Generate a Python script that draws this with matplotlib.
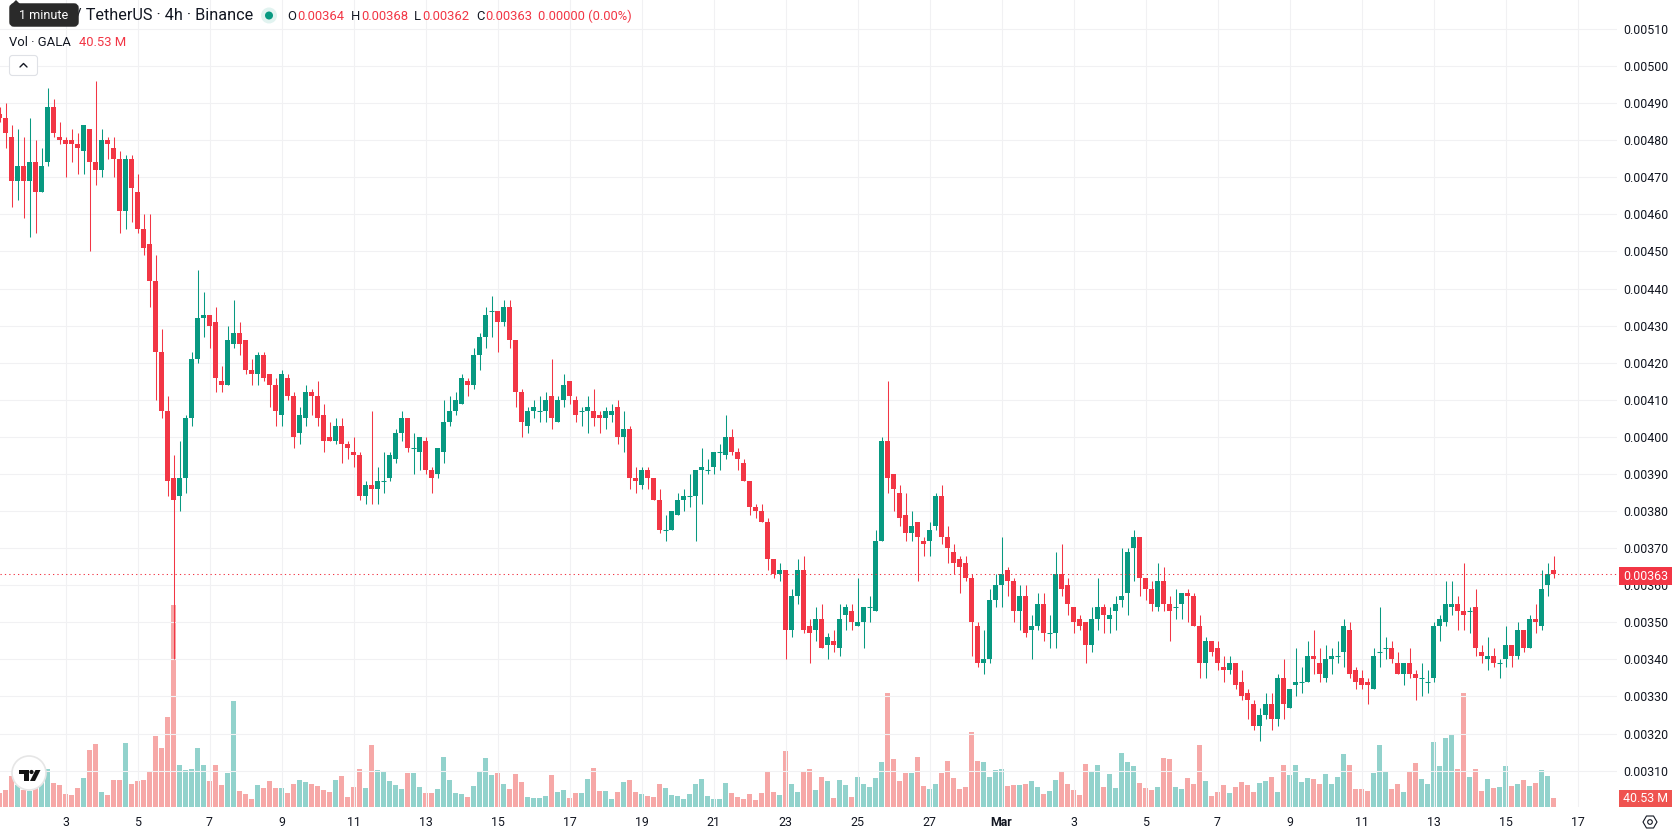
import matplotlib
matplotlib.use('Agg')
import matplotlib.pyplot as plt
import numpy as np
from matplotlib.patches import FancyBboxPatch, Circle, Polygon, Rectangle

plt.rcParams['font.family'] = ['Roboto', 'DejaVu Sans']

W, H = 1678, 835
GREEN = '#089981'
RED = '#F23645'
TEXT = '#131722'
GRID = '#f1f1f3'

# GALA/USDT 4h candles, prices in units of 0.00001, volume in millions
first_candle = -11  # candle number relative to the 00:00 candle of the 3rd
opens = [487,486,481,469,473,469,474,466,474,489,
         481,480,480,479,477,483,474,472,480,478,
         475,461,475,466,456,452,442,423,407,389,
         384,389,405,421,432,433,431,415,414,425,
         428,426,418,417,422,417,414,406,416,411,
         401,405,412,411,406,400,399,403,398,396,
         395,384,387,386,388,389,394,401,405,397,
         396,399,391,390,396,404,407,409,415,414,
         422,427,434,434,431,435,426,412,403,407,
         407,407,411,404,410,415,410,407,407,407,
         406,405,406,408,400,402,389,387,391,389,
         383,375,375,379,383,384,384,391,391,392,
         396,395,400,396,393,388,381,380,377,367,
         363,364,348,357,364,349,348,351,344,345,
         343,352,353,349,350,354,353,372,399,390,
         385,379,374,377,372,372,376,384,373,369,
         367,366,362,349,339,340,356,360,364,361,
         353,357,348,349,355,347,347,363,360,354,
         351,350,344,351,354,351,353,356,358,370,
         373,362,359,354,361,355,354,355,358,357,
         349,339,345,343,338,337,339,334,331,328,
         322,325,328,324,335,327,333,334,334,341,
         339,335,340,341,342,348,337,335,334,332,
         342,343,343,339,336,339,336,335,334,335,
         349,350,354,355,353,353,354,342,340,341,
         339,340,344,341,348,343,351,349,360,364]
highs = [489,490,484,483,481,486,480,478,494,491,
         485,481,483,482,484,483,496,483,481,481,
         477,476,476,471,460,460,449,429,411,395,
         399,406,423,445,439,433,435,419,430,437,
         431,426,421,423,423,417,416,418,417,412,
         408,414,413,415,409,404,405,405,399,400,
         396,388,407,392,396,396,402,407,405,401,
         400,400,392,397,410,411,412,417,416,424,
         428,435,438,434,437,437,426,413,408,410,
         411,412,421,411,417,415,411,408,411,413,
         407,408,409,410,407,403,392,392,392,389,
         386,379,380,385,386,390,391,397,394,396,
         398,406,402,397,394,388,382,382,378,367,
         366,364,359,367,368,351,354,355,347,348,
         355,355,355,362,354,357,375,400,415,390,
         387,385,380,377,373,377,385,387,376,371,
         368,368,363,350,348,359,363,373,365,362,
         360,360,352,358,358,352,369,371,362,354,
         352,350,354,362,355,354,357,370,370,375,
         373,362,361,366,365,357,359,358,359,358,
         352,346,345,345,341,341,339,337,332,329,
         327,331,331,336,340,332,343,338,345,348,
         343,344,343,345,351,350,338,337,335,343,
         354,346,345,342,339,343,337,339,337,350,
         352,361,361,357,366,354,359,344,346,343,
         340,349,344,350,348,352,355,364,366,368]
lows = [485,478,462,464,459,454,455,466,473,481,
        479,470,474,471,471,450,468,470,475,470,
        455,456,458,455,449,435,410,405,384,340,
        380,385,403,420,427,424,412,412,414,424,
        422,417,414,414,415,408,403,403,410,397,
        398,403,406,403,396,399,398,393,394,392,
        383,382,382,382,385,388,393,399,396,390,
        391,390,385,389,393,403,406,409,411,413,
        418,424,427,423,430,424,408,400,401,405,
        404,404,402,404,408,409,404,403,401,403,
        401,402,404,398,396,386,385,386,386,383,
        374,372,375,379,380,381,372,382,390,390,
        391,394,395,391,388,379,378,377,364,362,
        361,340,346,355,347,339,345,343,340,342,
        341,348,348,349,343,350,353,372,385,380,
        376,372,372,361,368,368,375,371,366,363,
        358,361,341,338,336,339,354,354,357,350,
        348,346,340,348,345,343,343,357,352,347,
        348,339,342,348,347,347,348,354,352,361,
        357,356,353,353,353,345,351,351,350,349,
        335,335,341,337,334,336,332,329,324,321,
        318,324,321,322,324,327,330,331,334,336,
        334,334,336,339,338,335,332,332,328,332,
        338,340,339,336,333,335,329,330,331,334,
        345,349,352,348,348,347,341,339,337,338,
        335,338,338,340,342,343,347,348,357,362]
closes = [486,482,469,473,469,474,466,473,489,482,
          480,479,479,478,484,474,472,480,479,475,
          461,475,467,456,451,442,423,407,388,383,
          389,405,421,432,433,430,416,414,426,428,
          425,418,417,422,416,414,407,417,411,400,
          406,412,411,405,399,399,403,398,397,395,
          384,387,386,388,388,395,401,405,397,397,
          400,391,389,397,404,407,410,416,414,422,
          427,433,434,431,435,426,412,404,407,408,
          407,410,405,410,414,411,406,407,408,405,
          405,407,407,400,402,389,388,391,389,383,
          375,375,380,383,384,384,391,392,391,396,
          396,400,396,394,388,381,380,377,367,363,
          364,348,357,364,348,347,351,343,346,344,
          351,354,350,350,354,354,372,399,389,386,
          378,374,376,373,371,375,384,373,370,366,
          365,362,350,339,340,356,360,363,361,353,
          357,347,349,355,347,347,363,359,355,350,
          349,344,351,354,352,352,355,357,369,373,
          362,359,355,361,355,353,354,358,357,349,
          339,345,342,339,337,339,333,330,329,322,
          325,328,324,335,328,332,334,334,341,340,
          336,340,341,341,349,336,334,333,333,341,
          342,343,340,336,339,336,335,335,334,349,
          351,355,355,353,352,353,343,341,341,339,
          339,344,341,348,343,351,350,359,363,363]
volumes = [63,76,140,99,75,70,84,121,171,108,
           99,58,54,85,130,256,283,67,54,121,
           121,288,103,117,121,162,319,265,405,909,
           189,166,171,265,189,117,189,99,153,477,
           72,58,36,99,85,117,85,85,63,103,
           121,112,103,94,76,67,121,140,45,90,
           171,85,279,166,162,117,99,81,153,153,
           90,63,63,81,225,121,63,58,45,94,
           157,220,144,153,103,81,148,112,45,40,
           40,49,144,67,76,40,63,63,126,175,
           72,72,36,67,112,121,67,58,49,45,
           103,85,54,49,36,58,103,126,49,36,
           36,108,63,45,36,58,31,63,157,67,
           54,252,103,67,162,171,76,135,117,40,
           121,99,45,135,103,90,130,202,513,216,
           117,153,153,225,94,81,103,153,207,130,
           81,90,337,207,202,135,166,171,94,99,
           99,103,117,90,58,72,121,157,103,76,
           54,193,157,189,90,148,85,243,202,184,
           108,85,76,90,220,216,90,81,130,103,
           279,117,49,67,99,63,90,112,99,67,
           108,117,135,67,189,144,189,112,130,126,
           103,148,103,135,238,189,81,81,72,153,
           279,162,81,103,67,157,198,126,103,292,
           184,310,324,171,513,135,171,72,126,85,
           90,184,94,103,121,94,108,166,140,40.53]
date_labels = ['3','5','7','9','11','13','15','17','19','21','23','25','27','Mar',
               '3','5','7','9','11','13','15','17']
price_ticks = list(range(310, 520, 10))
last_price = 363

o = np.array(opens, dtype=float)
h = np.array(highs, dtype=float)
l = np.array(lows, dtype=float)
c = np.array(closes, dtype=float)
v = np.array(volumes, dtype=float)
idx = np.arange(first_candle, first_candle + len(o))

fig = plt.figure(figsize=(W / 100, H / 100), dpi=100, facecolor='white')
plot_right = 1617
plot_bottom = 807
ax = fig.add_axes([0, 1 - plot_bottom / H, plot_right / W, plot_bottom / H])
vol = ax.twinx()
ax.set_zorder(vol.get_zorder() + 1)
ax.patch.set_visible(False)
vol.patch.set_facecolor('white')

# scales: 6 px per candle, 37.08 px per 0.00010, 4.5 M of volume per px
x0 = 65.5
ax.set_xlim(-x0 / 6, (plot_right - x0) / 6)
ax.set_ylim(510 - (plot_bottom - 29) / 3.708, 510 + 29 / 3.708)
vol.set_ylim(0, plot_bottom * 4.5)
vol.set_yticks([])

up = c >= o
width = 5 / 6

vol.bar(idx[up], v[up], width=width, color='#26a69a', alpha=0.5, linewidth=0)
vol.bar(idx[~up], v[~up], width=width, color='#ef5350', alpha=0.5, linewidth=0)

ax.yaxis.tick_right()
ax.set_yticks(price_ticks)
ax.set_yticklabels(['%.5f' % (p / 1e5) for p in price_ticks], fontsize=8.9, color=TEXT)
ax.set_xticks(np.arange(len(date_labels)) * 12)
ax.set_xticklabels(date_labels, fontsize=8.9, color=TEXT)
ax.get_xticklabels()[13].set_fontweight('bold')
ax.tick_params(axis='both', length=0)
ax.tick_params(axis='y', pad=4.3)
ax.tick_params(axis='x', pad=6.8)
ax.grid(True, color=GRID, linewidth=0.8)
ax.set_axisbelow(True)
for a in (ax, vol):
    for s in a.spines.values():
        s.set_visible(False)

for mask, col in ((up, GREEN), (~up, RED)):
    ax.vlines(idx[mask], l[mask], h[mask], color=col, linewidth=0.75)
    tall = mask & (o != c)
    ax.bar(idx[tall], np.abs(c[tall] - o[tall]), bottom=np.minimum(o[tall], c[tall]),
           width=width, color=col, linewidth=0)
    flat = mask & (o == c)
    ax.hlines(o[flat], idx[flat] - width / 2, idx[flat] + width / 2, color=col, linewidth=0.75)

ax.axhline(last_price, color=RED, linewidth=0.75, linestyle=(0, (1.2, 3)))

# everything that sits on top of the chart is placed in pixels
ov = fig.add_axes([0, 0, 1, 1], zorder=10)
ov.set_xlim(0, W)
ov.set_ylim(H, 0)
ov.axis('off')


def label(x, y, s, size=9.4, color=TEXT, ha='left', **kw):
    ov.text(x, y, s, fontsize=size, color=color, ha=ha, va='center', **kw)


label(75, 15.5, '/ TetherUS · 4h · Binance', size=11.7)

ov.add_patch(Circle((269, 15.5), 8, color='#e1f3f0', linewidth=0))
ov.add_patch(Circle((269, 15.5), 4, color=GREEN, linewidth=0))

ohlc = [(287, 'O', 297, '0.00364'), (351, 'H', 361, '0.00368'),
        (414, 'L', 422, '0.00362'), (476, 'C', 485, '0.00363')]
for x1, letter, x2, value in ohlc:
    label(x1, 16, letter)
    label(x2, 16, value, color=RED)
label(538, 16, '0.00000 (0.00%)', color=RED)

label(9, 42, 'Vol · GALA')
label(79, 42, '40.53 M', color=RED)

# tooltip over the start of the title
ov.add_patch(FancyBboxPatch((11, 5), 66, 20, boxstyle='round,pad=0,rounding_size=3',
                            mutation_aspect=1, fc='#2a2a2a', ec='#2a2a2a', lw=2.5, zorder=4))
ov.add_patch(Polygon([(12, 4), (16, 0), (20, 4)], fc='#2a2a2a', ec='none', zorder=4))
ov.text(44, 15.5, '1 minute', fontsize=9, color='white', ha='center', va='center', zorder=5)

# collapse button
ov.add_patch(FancyBboxPatch((9.5, 55.5), 28, 20, boxstyle='round,pad=0,rounding_size=3',
                            fc='white', ec='#dfe1e6', lw=0.8))
ov.plot([20, 23.5, 27], [67, 63.5, 67], color=TEXT, lw=1.0, solid_capstyle='round')

# logo badge
ov.add_patch(Circle((29, 773), 17, fc='white', ec='#e6e6e6', lw=1.2, zorder=3))
ov.add_patch(Polygon([(19, 770), (29, 770), (29, 781), (24, 781), (24, 774), (19, 774)],
                     fc='#131313', ec='none', zorder=4))
ov.add_patch(Circle((31.5, 772), 2.1, fc='#131313', ec='none', zorder=4))
ov.add_patch(Polygon([(35.5, 770), (40.5, 770), (35, 781), (30, 781)],
                     fc='#131313', ec='none', zorder=4))

# last price and last volume tags on the scale
ov.add_patch(Rectangle((1619, 566.5), 53, 18.5, fc=RED, ec='none', zorder=4))
ov.text(1645.5, 576, '0.00363', fontsize=8.9, color='white', ha='center', va='center', zorder=5)
ov.add_patch(Rectangle((1619, 790), 53, 17, fc='#ef5350', ec='none', zorder=4))
ov.text(1645.5, 798.5, '40.53 M', fontsize=8.9, color='white', ha='center', va='center', zorder=5)

# settings icon
hx, hy = 1650, 822
ov.add_patch(Polygon([(hx - 7, hy), (hx - 3.5, hy - 6), (hx + 3.5, hy - 6),
                      (hx + 7, hy), (hx + 3.5, hy + 6), (hx - 3.5, hy + 6)],
                     fc='white', ec=TEXT, lw=0.8))
ov.add_patch(Circle((hx, hy), 2.3, fc='white', ec=TEXT, lw=0.8))

fig.savefig('out.png', dpi=100)
